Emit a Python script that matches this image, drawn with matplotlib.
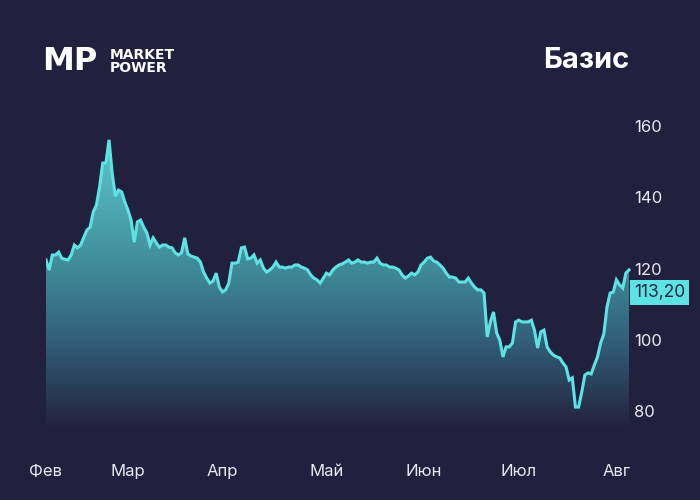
import numpy as np
import matplotlib
matplotlib.use('Agg')
import matplotlib.pyplot as plt
from matplotlib.colors import LinearSegmentedColormap
from matplotlib.patches import Polygon

# ---- data (days since 1 Feb, one value per day) ----
basis = [
    122.4, 119.6, 123.8, 123.8, 124.6, 122.9, 122.6, 122.4, 123.8, 126.6,
    125.8, 126.6, 128.8, 130.8, 131.6, 135.9, 137.8, 142.9, 149.6, 149.6,
    156.1, 146.8, 140.3, 142.0, 141.5, 138.7, 136.4, 133.6, 127.4, 133.1,
    133.6, 131.6, 130.0, 126.6, 128.6, 127.2, 126.0, 126.6, 126.6, 126.0,
    125.8, 124.4, 123.8, 124.4, 128.6, 124.1, 123.5, 123.2, 122.9, 121.8,
    119.0, 117.3, 115.9, 116.5, 118.7, 114.8, 113.4, 114.0, 115.9, 121.5,
    121.5, 121.8, 125.8, 126.0, 122.7, 122.9, 123.8, 121.5, 122.4, 120.1,
    119.0, 119.6, 120.4, 121.8, 120.4, 120.4, 120.1, 120.4, 120.4, 121.0,
    121.0, 120.4, 120.1, 119.6, 118.2, 117.3, 116.8, 115.9, 117.3, 118.7,
    118.2, 119.6, 120.4, 121.0, 121.3, 121.8, 122.4, 121.5, 121.8, 122.4,
    121.8, 121.8, 121.5, 121.8, 121.8, 122.9, 121.5, 121.0, 121.0, 120.4,
    120.4, 120.1, 119.6, 118.2, 117.3, 117.9, 118.7, 118.2, 119.0, 121.0,
    121.8, 122.9, 123.2, 122.1, 121.8, 121.0, 120.1, 118.7, 117.6, 117.6,
    117.3, 116.2, 116.2, 116.2, 117.3, 115.9, 114.8, 114.0, 114.0, 113.1,
    100.8, 105.0, 107.8, 101.9, 99.9, 95.2, 98.0, 98.0, 99.1, 105.0,
    105.5, 105.0, 105.0, 105.0, 105.5, 102.7, 97.7, 102.2, 102.7, 98.0,
    96.6, 95.7, 95.2, 94.9, 93.5, 92.4, 88.7, 89.3, 81.1, 81.1,
    85.3, 90.1, 90.7, 90.4, 92.9, 95.2, 99.1, 101.6, 109.2, 113.1,
    113.4, 116.8, 115.4, 114.5, 118.7, 119.6,
]
days = np.arange(len(basis))
month_labels = ['Фев', 'Мар', 'Апр', 'Май', 'Июн', 'Июл', 'Авг']
month_pos = [0, 26, 56, 89, 120, 150, 181]
y_ticks = [80, 100, 120, 140, 160]
last_value = 113.20
title = 'Базис'

BG = '#22203f'
LINE = '#5ee3e4'
TXT = '#e8e8f0'

plt.rcParams['font.family'] = ['Inter', 'DejaVu Sans']

fig = plt.figure(figsize=(7, 5), dpi=100, facecolor=BG)
ax = fig.add_axes([46 / 700, 1 - 425.25 / 500, 584.6 / 700, (425.25 - 108.2) / 500])
ax.set_facecolor(BG)
ymin, ymax = 76, 165
ax.set_xlim(0, len(basis) - 0.5)
ax.set_ylim(ymin, ymax)

cmap = LinearSegmentedColormap.from_list(
    'g', [(0.0, '#24243f'), (0.3, '#33607a'), (0.55, '#3f8b98'), (1.0, '#5cc8cc')])
grad = np.linspace(0, 1, 256).reshape(-1, 1)
im = ax.imshow(grad, aspect='auto', cmap=cmap, origin='lower',
               extent=[0, len(basis) - 0.5, ymin, max(basis)], zorder=1)
verts = [(days[0], ymin)] + list(zip(days, basis)) + [(days[-1], ymin)]
poly = Polygon(verts, closed=True, facecolor='none', edgecolor='none')
ax.add_patch(poly)
im.set_clip_path(poly)
ax.plot(days, basis, color=LINE, lw=2.2, zorder=3, solid_joinstyle='miter')

for s in ax.spines.values():
    s.set_visible(False)
ax.yaxis.tick_right()
ax.set_yticks(y_ticks)
ax.set_yticklabels([str(v) for v in y_ticks])
ax.tick_params(axis='y', length=0, pad=2.5, labelsize=12, labelcolor=TXT)
ax.set_xticks(month_pos)
ax.set_xticklabels(month_labels)
ax.tick_params(axis='x', length=0, pad=28, labelsize=12, labelcolor=TXT)

ax.text(1.006, last_value, f'{last_value:.2f}'.replace('.', ','),
        transform=ax.get_yaxis_transform(), ha='left', va='center',
        fontsize=12.5, color='#1d2a45',
        bbox=dict(boxstyle='square,pad=0.22', fc=LINE, ec='none'), zorder=5)

fig.text(629 / 700, 1 - 61 / 500, title, ha='right', va='center',
         fontsize=21, fontweight='bold', color='white')
fig.text(42 / 700, 1 - 62 / 500, 'MP', ha='left', va='center',
         fontsize=23, fontweight='bold', color='white', family='DejaVu Sans')
fig.text(110 / 700, 1 - 55 / 500, 'MARKET', ha='left', va='center',
         fontsize=10, fontweight='bold', color='white', family='DejaVu Sans')
fig.text(110 / 700, 1 - 67.5 / 500, 'POWER', ha='left', va='center',
         fontsize=10, fontweight='bold', color='white', family='DejaVu Sans')

fig.savefig('out.png', dpi=100, facecolor=BG)
